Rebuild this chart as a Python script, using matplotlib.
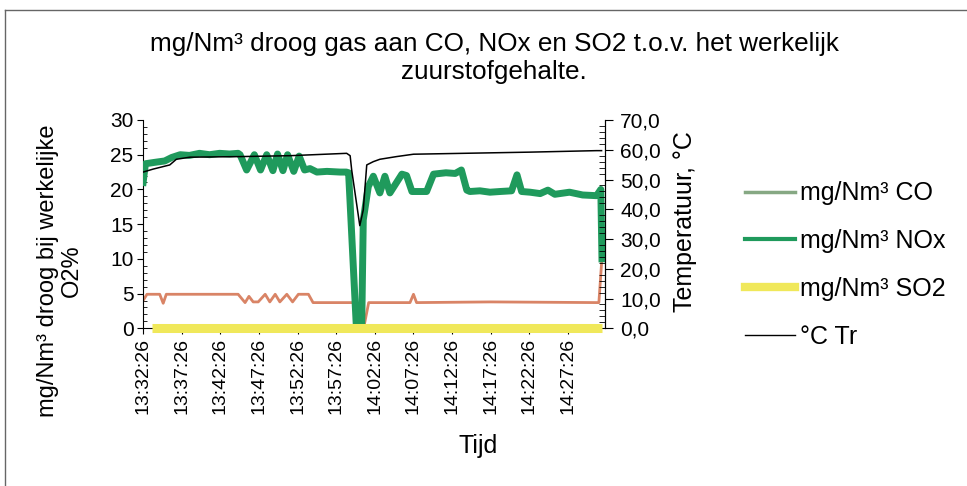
import matplotlib
matplotlib.use("Agg")
import matplotlib.pyplot as plt
from matplotlib.lines import Line2D
from matplotlib.ticker import MultipleLocator

plt.rcParams['font.family'] = ['Liberation Sans', 'DejaVu Sans']

# minutes after 13:32:26
tick_minutes = [0, 5, 10, 15, 20, 25, 30, 35, 40, 45, 50, 55]
tick_labels = ["13:32:26", "13:37:26", "13:42:26", "13:47:26", "13:52:26", "13:57:26",
               "14:02:26", "14:07:26", "14:12:26", "14:17:26", "14:22:26", "14:27:26"]

# mg/Nm3 NOx
nox_t = [0.0, 0.3, 1.5, 2.8, 3.7, 4.8, 6.0, 7.3, 8.6, 9.9,
         11.2, 12.3, 12.55, 13.4, 14.4, 15.2, 16.0, 16.8, 17.4, 18.1,
         18.7, 19.5, 20.2, 20.9, 21.6, 22.5, 23.8, 25.5, 26.3, 26.6,
         27.6, 28.3, 28.5, 29.15, 29.8, 30.65, 31.3, 31.95, 33.5, 34.1,
         34.8, 36.7, 37.6, 39.2, 40.4, 41.2, 41.9, 42.3, 43.6, 44.9,
         46.2, 47.7, 48.4, 49.0, 50.1, 51.4, 52.4, 53.3, 55.2, 56.9,
         58.7, 59.25, 59.4]
nox_v = [21.0, 23.7, 23.9, 24.1, 24.6, 25.0, 24.9, 25.2, 25.0, 25.2,
         25.1, 25.2, 25.0, 22.8, 25.0, 22.8, 25.0, 22.7, 25.1, 22.7,
         25.0, 22.6, 24.8, 22.8, 23.0, 22.5, 22.6, 22.5, 22.5, 22.4,
         0.3, 0.3, 15.6, 20.4, 21.9, 19.5, 21.9, 19.5, 22.2, 22.0,
         19.7, 19.7, 22.2, 22.4, 22.3, 22.8, 19.9, 19.7, 19.8, 19.6,
         19.7, 19.8, 22.1, 19.7, 19.6, 19.4, 19.9, 19.3, 19.6, 19.2,
         19.1, 20.0, 10.0]

# mg/Nm3 CO
co_t = [0.0, 0.5, 1.3, 2.15, 2.6, 3.0, 12.3, 13.2, 13.7, 14.25,
        14.9, 15.8, 16.4, 17.1, 17.7, 18.6, 19.35, 20.1, 21.4, 22.0,
        27.2, 27.6, 28.6, 29.2, 34.55, 35.0, 35.4, 45.0, 59.0, 59.35]
co_v = [4.0, 4.9, 4.9, 4.9, 3.6, 4.9, 4.9, 3.7, 4.6, 3.8,
        3.8, 4.9, 3.8, 4.9, 3.8, 4.9, 3.8, 4.9, 4.9, 3.7,
        3.7, 0.3, 0.3, 3.7, 3.7, 4.9, 3.7, 3.8, 3.7, 9.4]

# mg/Nm3 SO2
so2_t = [1.1, 15.0, 30.0, 45.0, 59.35]
so2_v = [0.0, 0.0, 0.0, 0.0, 0.0]

# temperature Tr, deg C (right axis)
temp_t = [0.0, 1.3, 3.45, 4.3, 6.05, 12.5, 19.0, 26.35, 26.8, 27.0,
          28.05, 28.5, 28.95, 29.8, 30.65, 32.8, 35.0, 41.45, 50.1, 58.7, 59.35]
temp_v = [52.5, 53.5, 54.9, 56.8, 57.5, 57.7, 58.0, 58.8, 58.0, 53.2,
          34.5, 39.8, 54.9, 56.0, 56.8, 57.7, 58.5, 58.8, 59.2, 59.7, 59.7]

fig = plt.figure(figsize=(9.67, 4.86), dpi=100)
ax = fig.add_axes([0.148, 0.3245, 0.4777, 0.4286])
ax2 = ax.twinx()

ax.plot(co_t, co_v, color='#d98466', lw=2, solid_joinstyle='round', zorder=2)
ax.plot(nox_t, nox_v, color='#1f9a5c', lw=5, solid_joinstyle='round', zorder=3)
ax.plot(so2_t, so2_v, color='#f0e85a', lw=6.5, solid_capstyle='butt', clip_on=False, zorder=4)
ax2.plot(temp_t, temp_v, color='black', lw=1.1)

ax.set_xlim(0, 59.8)
ax.set_ylim(0, 30)
ax2.set_ylim(0, 70)

ax.set_xticks(tick_minutes)
ax.set_xticklabels(tick_labels, rotation=90, fontsize=14)
ax.yaxis.set_major_locator(MultipleLocator(5))
ax.yaxis.set_minor_locator(MultipleLocator(1))
ax.tick_params(axis='y', which='major', direction='out', length=4, labelsize=15, pad=3)
ax.tick_params(axis='y', which='minor', direction='in', length=3)
ax.tick_params(axis='x', direction='out', length=4, pad=3)

ax2.yaxis.set_minor_locator(MultipleLocator(2))
ax2.set_yticks([0, 10, 20, 30, 40, 50, 60, 70])
ax2.set_yticklabels(["0,0", "10,0", "20,0", "30,0", "40,0", "50,0", "60,0", "70,0"])
ax2.tick_params(axis='y', which='major', direction='out', length=6, labelsize=15, pad=5)
ax2.tick_params(axis='y', which='minor', direction='in', length=4)

for a in (ax, ax2):
    a.spines['top'].set_visible(False)
ax2.spines['left'].set_visible(False)
ax2.spines['bottom'].set_visible(False)

fig.text(494 / 967, 1 - 58 / 486,
         "mg/Nm³ droog gas aan CO, NOx en SO2 t.o.v. het werkelijk\nzuurstofgehalte.",
         ha='center', va='center', fontsize=18.8, linespacing=1.2)
fig.text(60 / 967, 1 - 271 / 486, "mg/Nm³ droog bij werkelijke\nO2%",
         rotation=90, ha='center', va='center', fontsize=17, multialignment='center',
         linespacing=1.15)
fig.text(685 / 967, 1 - 222 / 486, "Temperatuur, °C", rotation=90,
         ha='center', va='center', fontsize=18)
fig.text(478 / 967, 1 - 446 / 486, "Tijd", ha='center', va='center', fontsize=18)

handles = [Line2D([], [], color='#86a883', lw=2.5),
           Line2D([], [], color='#1f9a5c', lw=3),
           Line2D([], [], color='#f0e85a', lw=6),
           Line2D([], [], color='black', lw=1)]
labels = ["mg/Nm³ CO", "mg/Nm³ NOx", "mg/Nm³ SO2", "°C Tr"]
fig.legend(handles, labels, loc='center left', bbox_to_anchor=(722 / 967, 1 - 265 / 486),
           frameon=False, fontsize=18, handlelength=2.0, handletextpad=0.2,
           labelspacing=0.95)

# scanned page border (top and left edge)
fig.add_artist(Line2D([5 / 967, 1.0], [1 - 10 / 486, 1 - 10 / 486],
                      transform=fig.transFigure, color='#666666', lw=1))
fig.add_artist(Line2D([5 / 967, 5 / 967], [0.0, 1 - 10 / 486],
                      transform=fig.transFigure, color='#666666', lw=1))

fig.savefig("out.png", dpi=100)
